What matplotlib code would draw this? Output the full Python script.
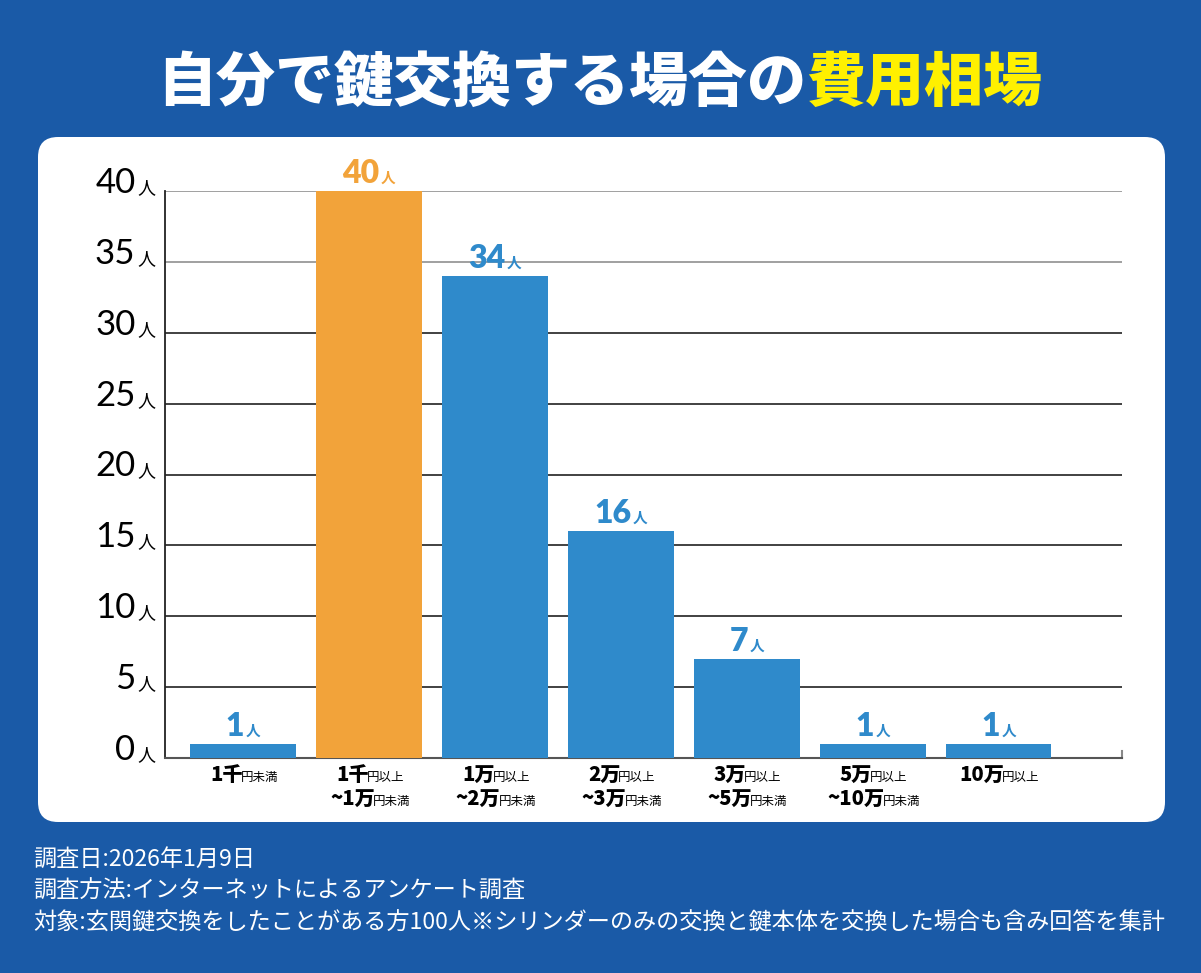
import matplotlib.pyplot as plt
from matplotlib.patches import FancyBboxPatch
from matplotlib.transforms import IdentityTransform

plt.rcParams['font.family'] = ['Noto Sans CJK JP', 'DejaVu Sans']

# data
cat_main1 = ['1千', '1千', '1万', '2万', '3万', '5万', '10万']
cat_sub1 = ['円未満', '円以上', '円以上', '円以上', '円以上', '円以上', '円以上']
cat_main2 = ['', '~1万', '~2万', '~3万', '~5万', '~10万', '']
cat_sub2 = ['', '円未満', '円未満', '円未満', '円未満', '円未満', '']
counts = [1, 40, 34, 16, 7, 1, 1]
yticks = [0, 5, 10, 15, 20, 25, 30, 35, 40]

BG = '#1a5aa7'
BLUE = '#2f8acb'
ORANGE = '#f2a33a'
YELLOW = '#fff000'
NUM = ['Lato', 'Noto Sans CJK JP']
JP = ['Noto Sans CJK JP', 'DejaVu Sans']

fig = plt.figure(figsize=(12.01, 9.73), dpi=100)
fig.patch.set_facecolor(BG)
H = 973

box = FancyBboxPatch((38, H - 822), 1127, 685,
                     boxstyle='round,pad=0,rounding_size=20',
                     facecolor='white', edgecolor='none',
                     transform=IdentityTransform(), zorder=-5)
fig.patches.append(box)

ax = fig.add_axes([165 / 1201, 1 - 758 / H, (1122 - 165) / 1201, (758 - 191) / H])
ax.set_facecolor('none')
colors = [ORANGE if c == max(counts) else BLUE for c in counts]
ax.bar(range(len(counts)), counts, width=0.84, color=colors, zorder=3)
ax.set_xlim(-0.62, 6.98)
ax.set_ylim(0, 40)
for y in yticks[1:]:
    ax.axhline(y, color='#999999' if y >= 35 else '#333333', lw=1.3, zorder=1)
for s in ['top', 'right']:
    ax.spines[s].set_visible(False)
ax.spines['left'].set_color('#222222')
ax.spines['bottom'].set_color('#555555')
ax.spines['left'].set_linewidth(1.3)
ax.spines['bottom'].set_linewidth(1.5)
ax.set_xticks([])
ax.set_yticks([])
ax.plot([6.98, 6.98], [0, 0.5], color='#888888', lw=1.5, clip_on=False)

renderer = fig.canvas.get_renderer()


def rich(xc, yb, pieces, ha='center', squeeze=0):
    # pieces: (text, size, weight, color, family), baseline-aligned, display pixels
    texts = []
    for s, size, weight, color, fam in pieces:
        t = fig.text(0, 0, s, fontsize=size, fontweight=weight, color=color,
                     family=fam, va='baseline', ha='left',
                     transform=IdentityTransform())
        texts.append(t)
    widths = [t.get_window_extent(renderer).width - squeeze for t in texts]
    total = sum(widths)
    x = xc - total / 2 if ha == 'center' else xc - total
    for t, w in zip(texts, widths):
        t.set_position((x, yb))
        x += w


# y tick labels
for y in yticks:
    px, py = ax.transData.transform((-0.62, y))
    rich(px - 10, py - 2, [(str(y), 25, 'normal', 'black', NUM), (' ', 5, 'normal', 'black', JP),
                           ('人', 13, 'normal', 'black', JP)], ha='right')

# value labels
for i, c in enumerate(counts):
    px, py = ax.transData.transform((i, c))
    col = colors[i]
    rich(px, py + 8, [(str(c), 23, 'heavy', col, NUM), (' ', 4, 'bold', col, JP),
                      ('人', 10.5, 'bold', col, JP)])

# category labels
for i in range(len(counts)):
    px, py = ax.transData.transform((i, 0))
    rich(px, H - 781, [(cat_main1[i], 14.5, 'heavy', 'black', JP),
                       (cat_sub1[i], 9, 'normal', 'black', JP)], squeeze=2)
    if cat_main2[i]:
        rich(px, H - 805, [(cat_main2[i], 14.5, 'heavy', 'black', JP),
                           (cat_sub2[i], 9, 'normal', 'black', JP)], squeeze=2)

# title
rich(600, H - 101, [('自分で鍵交換する場合の', 42.5, 'heavy', 'white', JP),
                    ('費用相場', 42.5, 'heavy', YELLOW, JP)])

# footnotes
notes = ['調査日:2026年1月9日',
         '調査方法:インターネットによるアンケート調査',
         '対象:玄関鍵交換をしたことがある方100人※シリンダーのみの交換と鍵本体を交換した場合も含み回答を集計']
for k, n in enumerate(notes):
    fig.text(33 / 1201, 1 - (859 + 32 * k) / H, n, color='white', fontsize=16.7,
             va='center', ha='left')

fig.savefig('out.png', dpi=100, facecolor=BG)
